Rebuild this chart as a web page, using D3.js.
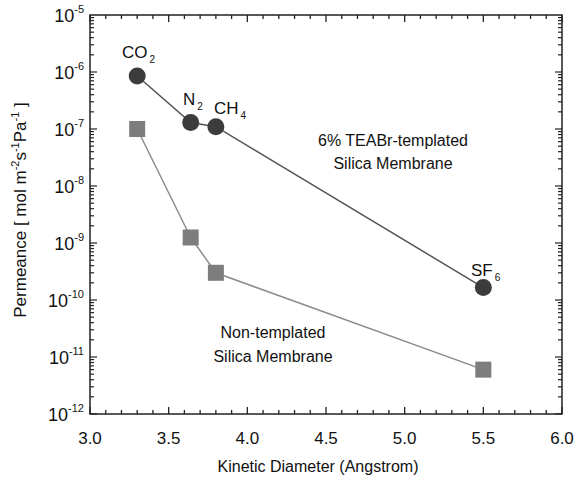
<!DOCTYPE html>
<html>
<head>
<meta charset="utf-8">
<script src="https://cdn.jsdelivr.net/npm/d3@7"></script>
<style>
  body { margin: 0; background: #fff; }
  text { font-family: Arial, "Liberation Sans", sans-serif; fill: #111; }
</style>
</head>
<body>
<svg id="chart" width="576" height="480"></svg>
<script>
// DATA
var gases = ['CO2', 'N2', 'CH4', 'SF6'];
var diameter = [3.3, 3.64, 3.8, 5.5];
var templated = [8.5e-7, 1.3e-7, 1.1e-7, 1.65e-10];
var nonTemplated = [1.0e-7, 1.25e-9, 3.0e-10, 6.0e-12];
var xTicks = [3.0, 3.5, 4.0, 4.5, 5.0, 5.5, 6.0];
var yExponents = [-12, -11, -10, -9, -8, -7, -6, -5];

// LAYOUT
var pLeft = 90, pRight = 562, pTop = 15, pBottom = 414;
var svg = d3.select('#chart');

var xScale = d3.scaleLinear().domain([3, 6]).range([pLeft, pRight]);
var yScale = d3.scaleLog().domain([1e-12, 1e-5]).range([pBottom, pTop]);

// FRAME
svg.append('rect')
  .attr('x', pLeft).attr('y', pTop)
  .attr('width', pRight - pLeft).attr('height', pBottom - pTop)
  .attr('fill', 'none').attr('stroke', '#222').attr('stroke-width', 1.5);

// X TICKS (inward, bottom and top)
var xMinor = d3.range(30, 61).map(function(d) { return d / 10; });
xMinor.forEach(function(v) {
  var major = Math.abs(v * 2 - Math.round(v * 2)) < 1e-6;
  var len = major ? 7 : 4;
  var x = xScale(v);
  svg.append('line').attr('x1', x).attr('x2', x)
    .attr('y1', pBottom).attr('y2', pBottom - len)
    .attr('stroke', '#222').attr('stroke-width', 1.3);
  svg.append('line').attr('x1', x).attr('x2', x)
    .attr('y1', pTop).attr('y2', pTop + len)
    .attr('stroke', '#222').attr('stroke-width', 1.3);
});

svg.selectAll('.xlab').data(xTicks).enter().append('text')
  .attr('class', 'xlab')
  .attr('x', function(d) { return xScale(d); })
  .attr('y', 444)
  .attr('text-anchor', 'middle')
  .attr('font-size', '17px')
  .text(function(d) { return d.toFixed(1); });

// Y TICKS (log, inward, left and right)
for (var e = -12; e < -5; e++) {
  for (var m = 1; m < 10; m++) {
    var v = m * Math.pow(10, e);
    var y = yScale(v);
    var len = m === 1 ? 7 : 4;
    svg.append('line').attr('x1', pLeft).attr('x2', pLeft + len)
      .attr('y1', y).attr('y2', y).attr('stroke', '#222').attr('stroke-width', 1.2);
    svg.append('line').attr('x1', pRight).attr('x2', pRight - len)
      .attr('y1', y).attr('y2', y).attr('stroke', '#222').attr('stroke-width', 1.2);
  }
}

var ylab = svg.selectAll('.ylab').data(yExponents).enter().append('text')
  .attr('class', 'ylab')
  .attr('x', 84)
  .attr('y', function(d) { return yScale(Math.pow(10, d)) + 7; })
  .attr('text-anchor', 'end')
  .attr('font-size', '18px');
ylab.append('tspan').text('10');
ylab.append('tspan').attr('dy', -9).attr('font-size', '11px').text(function(d) { return d; });

// AXIS TITLES
svg.append('text')
  .attr('x', 318).attr('y', 472)
  .attr('text-anchor', 'middle')
  .attr('font-size', '16px')
  .text('Kinetic Diameter (Angstrom)');

var yt = svg.append('text')
  .attr('transform', 'translate(26,210) rotate(-90)')
  .attr('text-anchor', 'middle')
  .attr('font-size', '17px');
yt.append('tspan').text('Permeance [ mol m');
yt.append('tspan').attr('dy', -7).attr('font-size', '11px').text('-2');
yt.append('tspan').attr('dy', 7).text('s');
yt.append('tspan').attr('dy', -7).attr('font-size', '11px').text('-1');
yt.append('tspan').attr('dy', 7).text('Pa');
yt.append('tspan').attr('dy', -7).attr('font-size', '11px').text('-1');
yt.append('tspan').attr('dy', 7).text(' ]');

// LINES
var line = d3.line()
  .x(function(d) { return xScale(d[0]); })
  .y(function(d) { return yScale(d[1]); });

svg.append('path')
  .datum(diameter.map(function(d, i) { return [d, nonTemplated[i]]; }))
  .attr('d', line).attr('fill', 'none')
  .attr('stroke', '#8c8c8c').attr('stroke-width', 1.5);

svg.append('path')
  .datum(diameter.map(function(d, i) { return [d, templated[i]]; }))
  .attr('d', line).attr('fill', 'none')
  .attr('stroke', '#555').attr('stroke-width', 1.5);

// MARKERS
svg.selectAll('.sq').data(nonTemplated).enter().append('rect')
  .attr('class', 'sq')
  .attr('x', function(d, i) { return xScale(diameter[i]) - 8; })
  .attr('y', function(d) { return yScale(d) - 8; })
  .attr('width', 16).attr('height', 16)
  .attr('fill', '#7d7d7d');

svg.selectAll('.dot').data(templated).enter().append('circle')
  .attr('class', 'dot')
  .attr('cx', function(d, i) { return xScale(diameter[i]); })
  .attr('cy', function(d) { return yScale(d); })
  .attr('r', 8.5)
  .attr('fill', '#3c3c3c');

// GAS LABELS
var gasLabels = [
  { base: 'CO', sub: '2', x: 122, y: 58 },
  { base: 'N', sub: '2', x: 183, y: 105 },
  { base: 'CH', sub: '4', x: 214, y: 114 },
  { base: 'SF', sub: '6', x: 471, y: 276 }
];
gasLabels.forEach(function(g) {
  var t = svg.append('text').attr('x', g.x).attr('y', g.y).attr('font-size', '17px');
  t.append('tspan').text(g.base);
  t.append('tspan').attr('dy', 5).attr('dx', 2).attr('font-size', '10px').text(g.sub);
});

// SERIES ANNOTATIONS
svg.append('text').attr('x', 393).attr('y', 146).attr('text-anchor', 'middle')
  .attr('font-size', '16px').text('6% TEABr-templated');
svg.append('text').attr('x', 393).attr('y', 169).attr('text-anchor', 'middle')
  .attr('font-size', '16px').text('Silica Membrane');
svg.append('text').attr('x', 273).attr('y', 338).attr('text-anchor', 'middle')
  .attr('font-size', '16px').text('Non-templated');
svg.append('text').attr('x', 273).attr('y', 362).attr('text-anchor', 'middle')
  .attr('font-size', '16px').text('Silica Membrane');
</script>
</body>
</html>
